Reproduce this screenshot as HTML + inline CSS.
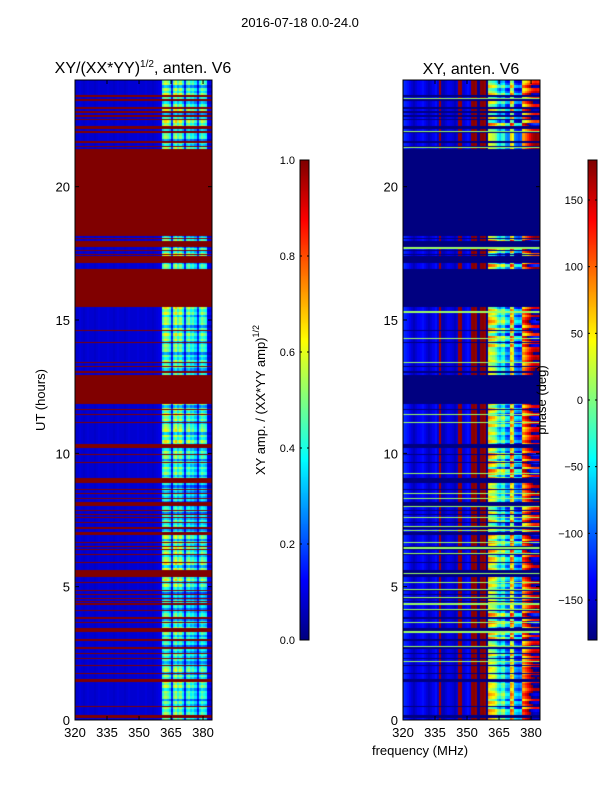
<!DOCTYPE html>
<html><head><meta charset="utf-8"><style>
body{margin:0;background:#fff;width:600px;height:800px;overflow:hidden;font-family:"Liberation Sans",sans-serif}
#root{position:relative;width:600px;height:800px}
canvas{position:absolute}
svg{position:absolute;left:0;top:0}
</style></head><body>
<div id="root">
<canvas id="ampC" width="137" height="640" style="left:75px;top:80px"></canvas>
<canvas id="phC" width="137" height="640" style="left:403px;top:80px"></canvas>
<canvas id="cb1" width="9" height="480" style="left:300px;top:160px"></canvas>
<canvas id="cb2" width="9" height="480" style="left:588px;top:160px"></canvas>
<svg id="ov" width="600" height="800"></svg>
</div>
<script>
// ---- data ----
const freqStart = 320, freqEnd = 384.2, nCols = 64;
const utMin = 0, utMax = 24;
const flagBands = [[0.07,0.19],[1.42,1.54],[3.3,3.45],[3.8,3.86],[5.36,5.62],[6.94,7.05],[8.02,8.17],[8.89,9.07],[10.2,10.35],[11.85,12.94],[14.14,14.17],[15.49,16.87],[17.14,17.4],[17.74,17.96],[18.15,21.4],[21.64,21.71],[22.16,22.27]];
const thinFlags = [0.49,1.76,2.06,2.32,2.51,2.7,3.0,3.64,4.12,4.35,4.46,4.57,4.69,4.87,5.17,5.89,6.19,6.41,6.52,6.67,7.2,7.39,7.61,7.69,7.87,8.32,8.51,8.66,9.67,9.94,11.14,11.47,11.66,13.05,13.24,13.42,14.62,16.89,17.47,17.62,18.07,21.49,22.05,22.53,22.65,22.8,22.95,23.25,23.4];
const ampProfile = [0.07,0.08,0.09,0.08,0.07,0.08,0.09,0.08,0.08,0.07,0.08,0.09,0.08,0.08,0.08,0.09,0.08,0.08,0.07,0.08,0.09,0.08,0.08,0.07,0.08,0.09,0.08,0.08,0.08,0.09,0.08,0.08,0.08,0.09,0.08,0.08,0.07,0.08,0.09,0.1,0.11,
 0.42,0.5,0.46,0.38,0.15,0.45,0.52,0.4,0.48,0.36,0.15,0.4,0.45,0.36,0.4,0.32,0.15,0.36,0.44,0.4,0.36,0.1,0.09,0.09];
const phaseProfile = [-120,-125,-130,-140,-150,-160,-150,-140,-135,-130,-140,-150,-160,-150,-140,-130,-150,170,-160,-160,-150,-140,-145,-150,-160,-150,170,175,-150,-140,-130,-140,175,178,172,-170,175,178,172,-175,
 40,30,20,0,-40,-60,-30,-20,-80,-90,60,40,-90,-100,-110,-100,80,100,120,140,160,170,175,170];
const hourAmp = [1.0,1.1,0.9,1.0,0.8,1.2,1.1,0.9,0.8,1.0,1.15,1.1,1.0,1.0,1.1,1.15,1.0,1.1,1.0,1.0,1.0,1.0,1.15,1.1];
const subAmp = [1,0.7,1.1,0.9,1.15,0.8,1.05,0.6,1.1,1.0];
const hourPhase = [40,20,-30,60,-20,30,50,-40,20,60,-30,40,10,-20,50,30,0,70,0,0,0,0,60,-40];
const subPhase = [1,-0.5,0.8,1.3,-1,0.4,1.1,-0.7,0.6,1.2];
const greenLines = [2.21,2.74,3.3,3.64,4.16,4.35,4.61,4.91,5.14,5.51,6.26,6.45,6.67,7.12,7.27,7.61,7.99,8.29,8.51,9.26,11.14,11.47,13.39,14.29,15.3,17.7,21.48,22.08,23.32];
const xTicks = [320,335,350,365,380];
const yTicks = [0,5,10,15,20];
const ampCbTicks = [0.0,0.2,0.4,0.6,0.8,1.0];
const phCbTicks = [-150,-100,-50,0,50,100,150];

function jet(v){v=Math.max(0,Math.min(1,v));
 const f=x=>Math.round(255*Math.max(0,Math.min(1,x)));
 return `rgb(${f(1.5-Math.abs(4*v-3))},${f(1.5-Math.abs(4*v-2))},${f(1.5-Math.abs(4*v-1))})`;}
const plotH=640, plotW=137;
const yOf = ut => plotH*(1-(ut-utMin)/(utMax-utMin));
const xOf = f => plotW*(f-freqStart)/(freqEnd-freqStart);
function isFlag(ut){
 for(const b of flagBands) if(ut>=b[0]&&ut<=b[1]) return true;
 for(const t of thinFlags) if(Math.abs(ut-t)<0.019) return true;
 return false;}
function isGreen(ut){for(const t of greenLines) if(Math.abs(ut-t)<0.019) return true;return false;}
function wrap(p){while(p>180)p-=360;while(p<-180)p+=360;return p;}
const ac=document.getElementById('ampC').getContext('2d');
const pc=document.getElementById('phC').getContext('2d');
const colW=(freqEnd-freqStart)/nCols;
for(let py=0;py<plotH;py++){
 const ut=utMax-(py+0.5)/plotH*(utMax-utMin);
 const h=Math.min(23,Math.floor(ut)), s=Math.floor(ut*10)%10;
 const fl=isFlag(ut), gr=isGreen(ut);
 for(let c=0;c<nCols;c++){
  const x0=xOf(freqStart+c*colW), x1=xOf(freqStart+(c+1)*colW);
  let a, p;
  if(fl){a=1; p=-180;}
  else{
   a=ampProfile[c]; if(c>40) a*=hourAmp[h]*subAmp[s];
   p=phaseProfile[c]; if(c>=40) p=wrap(p+hourPhase[h]*subPhase[s]);
  }
  if(gr) p=10;
  ac.fillStyle=jet(a); ac.fillRect(Math.floor(x0),py,Math.ceil(x1)-Math.floor(x0),1);
  pc.fillStyle=jet((p+180)/360); pc.fillRect(Math.floor(x0),py,Math.ceil(x1)-Math.floor(x0),1);
 }
}
for(const [id] of [['cb1'],['cb2']]){const g=document.getElementById(id).getContext('2d');
 for(let i=0;i<480;i++){g.fillStyle=jet(1-i/479);g.fillRect(0,i,9,1);}}

const NS='http://www.w3.org/2000/svg', ov=document.getElementById('ov');
function mk(tag,at,txt){const e=document.createElementNS(NS,tag);for(const k in at)e.setAttribute(k,at[k]);if(txt!==undefined)e.textContent=txt;ov.appendChild(e);return e;}
function txt(x,y,s,opt){const e=mk('text',Object.assign({x:x,y:y,'font-size':13,'font-family':'Liberation Sans, sans-serif',fill:'#000'},opt||{}),s);return e;}
const t0=txt(300,27,'2016-07-18 0.0-24.0',{'text-anchor':'middle','font-size':13});

const t1=mk('text',{x:143,y:73,'text-anchor':'middle','font-size':16,'font-family':'Liberation Sans, sans-serif'});
t1.innerHTML='XY/(XX*YY)<tspan font-size="10" dy="-6">1/2</tspan><tspan dy="6">, anten. V6</tspan>';

const t2=txt(471,74,'XY, anten. V6',{'text-anchor':'middle','font-size':16});

for(const [ox,nm] of [[75,'amplitude'],[403,'phase']]){
 const fr=mk('rect',{x:ox,y:80,width:plotW,height:plotH,fill:'none',stroke:'#000','stroke-width':1});
 
 for(const v of xTicks){const x=ox+xOf(v);
  mk('line',{x1:x,x2:x,y1:720,y2:716,stroke:'#000'});mk('line',{x1:x,x2:x,y1:80,y2:84,stroke:'#000'});
  const l=txt(x,737,String(v),{'text-anchor':'middle'});
  }
 for(const v of yTicks){const y=80+yOf(v);
  mk('line',{x1:ox,x2:ox+4,y1:y,y2:y,stroke:'#000'});mk('line',{x1:ox+plotW,x2:ox+plotW-4,y1:y,y2:y,stroke:'#000'});
  const l=txt(ox-5,y+5,String(v),{'text-anchor':'end'});
  }
}
mk('rect',{x:300,y:160,width:9,height:480,fill:'none',stroke:'#000'});
mk('rect',{x:588,y:160,width:9,height:480,fill:'none',stroke:'#000'});
for(const v of ampCbTicks){const y=640-v*480;
 mk('line',{x1:300,x2:302,y1:y,y2:y,stroke:'#000'});mk('line',{x1:307,x2:309,y1:y,y2:y,stroke:'#000'});
 const l=txt(295,y+4,v.toFixed(1),{'text-anchor':'end','font-size':11});
 }
for(const v of phCbTicks){const y=640-(v+180)/360*480;
 mk('line',{x1:588,x2:590,y1:y,y2:y,stroke:'#000'});mk('line',{x1:595,x2:597,y1:y,y2:y,stroke:'#000'});
 const l=txt(583,y+4,v<0?'\u2212'+(-v):String(v),{'text-anchor':'end','font-size':11});
 }
const yl=txt(0,0,'UT (hours)',{'text-anchor':'middle',transform:'translate(45,400) rotate(-90)'});

const cl=mk('text',{'text-anchor':'middle','font-size':13,'font-family':'Liberation Sans, sans-serif',transform:'translate(265,400) rotate(-90)'});
cl.innerHTML='XY amp. / (XX*YY amp)<tspan font-size="9" dy="-6">1/2</tspan>';

const pl=txt(0,0,'phase (deg)',{'text-anchor':'middle',transform:'translate(546,400) rotate(-90)'});

const xl=txt(420,755,'frequency (MHz)',{'text-anchor':'middle'});

</script>
</body></html>
